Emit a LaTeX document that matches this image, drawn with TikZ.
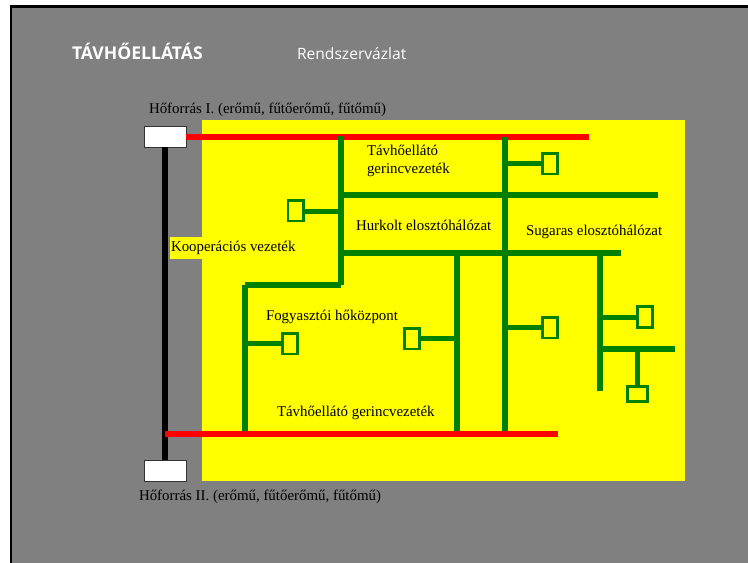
\documentclass[tikz,border=0pt]{standalone}
\usepackage{fontspec}
\setmainfont{Liberation Serif}
\newfontfamily\titlefont{Open Sans}
\definecolor{slidegray}{HTML}{808080}
\definecolor{pipegreen}{HTML}{008000}
\definecolor{areayellow}{HTML}{FFFF00}
\tikzset{
  lbl/.style={anchor=base west,inner sep=0pt,outer sep=0pt,text=black,font=\fontsize{14.9}{17}\selectfont},
  ttl/.style={anchor=base west,inner sep=0pt,outer sep=0pt,text=white},
  source/.style={draw=black!80,fill=white,line width=1pt,minimum width=42.3pt,minimum height=21pt,inner sep=0pt,outer sep=0pt},
  consumer/.style={draw=pipegreen,fill=areayellow,line width=2.6pt,minimum width=15.4pt,minimum height=20.6pt,inner sep=0pt,outer sep=0pt},
  consumerwide/.style={consumer,minimum width=20.4pt,minimum height=15.4pt},
  blackline/.style={draw=black,line width=6pt},
  redline/.style={draw=red,line width=6pt},
  main/.style={draw=pipegreen,line width=6pt},
  stub/.style={draw=pipegreen,line width=5pt},
}
\begin{document}
\begin{tikzpicture}[x=1pt,y=-1pt]
\useasboundingbox (0,0) rectangle (748,563);
\fill[white] (0,0) rectangle (748,563);
\fill[black] (9.5,5.3) rectangle (748,563);
\fill[slidegray] (12,7.7) rectangle (748,563);
\fill[areayellow] (202,120) rectangle (685,481);
\fill[areayellow] (170,237) rectangle (202,259);

% source boxes
\node[source] (src1) at (165.3,136.7) {};
\node[source] (src2) at (165.3,470.5) {};

% junction coordinates
\coordinate (bk) at (165,300);
\coordinate (rt0) at (src1.east);
\coordinate (rt1) at (589,137);
\coordinate (rb0) at (165,434);
\coordinate (rb1) at (558,434);
\coordinate (a0) at (341,136);
\coordinate (a1) at (341,285);
\coordinate (b0) at (245,285);
\coordinate (b1) at (245,431);
\coordinate (h1a) at (341,195);
\coordinate (h1b) at (658,195);
\coordinate (h2a) at (341,253);
\coordinate (h2b) at (621,253);
\coordinate (v1a) at (457,253);
\coordinate (v1b) at (457,431);
\coordinate (v2a) at (505,137);
\coordinate (v2b) at (505,431);
\coordinate (v3a) at (600,253);
\coordinate (v3b) at (600,391);
\coordinate (h3a) at (600,349);
\coordinate (h3b) at (675,349);
\coordinate (s1) at (341,211);
\coordinate (s2) at (505,163);
\coordinate (s3) at (245,343);
\coordinate (s4) at (457,338);
\coordinate (s5) at (505,327);
\coordinate (s6) at (600,317);
\coordinate (s7) at (637,349);

% consumers
\node[consumer] (c1) at (295.5,210.5) {};
\node[consumer] (c2) at (550,163.5) {};
\node[consumer] (c3) at (290,343.5) {};
\node[consumer] (c4) at (412,338.5) {};
\node[consumer] (c5) at (550,327.5) {};
\node[consumer] (c6) at (645,317) {};
\node[consumerwide] (c7) at (637.5,394) {};

% pipes
\draw[blackline] (bk |- src1.south) -- (bk |- src2.north);
\draw[redline] (rt0 |- rt1) -- (rt1);
\draw[redline] (rb0) -- (rb1);
\draw[main] (a0) -- (a1);
\draw[main] (b0) -- (a1);
\draw[main] (b0) -- (b1);
\draw[main] (h1a) -- (h1b);
\draw[main] (h2a) -- (h2b);
\draw[main] (v1a) -- (v1b);
\draw[main] (v2a) -- (v2b);
\draw[main] (v3a) -- (v3b);
\draw[main] (h3a) -- (h3b);

% stubs
\draw[stub] (c1.east |- s1) -- (s1);
\draw[stub] (c2.west |- s2) -- (s2);
\draw[stub] (c3.west |- s3) -- (s3);
\draw[stub] (c4.east |- s4) -- (s4);
\draw[stub] (c5.west |- s5) -- (s5);
\draw[stub] (c6.west |- s6) -- (s6);
\draw[stub] (s7 |- c7.north) -- (s7);

% labels
\node[ttl,font=\titlefont\bfseries\fontsize{17.6}{20}\selectfont] (t1) at (72,59) {TÁVHŐELLÁTÁS};
\node[ttl,font=\titlefont\fontsize{15.6}{18}\selectfont] (t2) at (297,59) {Rendszervázlat};
\node[lbl] (l1) at (149,113) {Hőforrás I. (erőmű, fűtőerőmű, fűtőmű)};
\node[lbl] (l2) at (367,155) {Távhőellátó};
\node[lbl] (l3) at (367,173.5) {gerincvezeték};
\node[lbl] (l4) at (356,230) {Hurkolt elosztóhálózat};
\node[lbl] (l5) at (526,235) {Sugaras elosztóhálózat};
\node[lbl] (l6) at (171,251.5) {Kooperációs vezeték};
\node[lbl] (l7) at (266,320) {Fogyasztói hőközpont};
\node[lbl] (l8) at (277,416) {Távhőellátó gerincvezeték};
\node[lbl] (l9) at (139,500) {Hőforrás II. (erőmű, fűtőerőmű, fűtőmű)};
\end{tikzpicture}
\end{document}
